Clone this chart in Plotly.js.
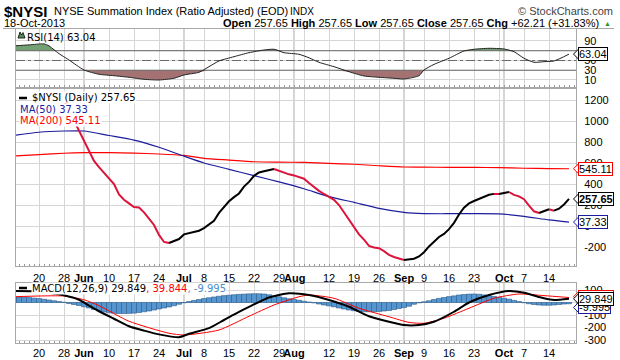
<!DOCTYPE html>
<html><head><meta charset="utf-8">
<script src="https://cdn.plot.ly/plotly-3.0.1.min.js"></script>
<style>html,body{margin:0;padding:0;background:#fff}#chart{width:620px;height:360px}</style>
</head><body><div id="chart"></div>
<script>
// ---------- trading days ----------
const mayDays = ['05-13','05-14','05-15','05-16','05-17','05-20','05-21','05-22','05-23','05-24','05-28','05-29','05-30','05-31'];
const junDays = ['06-03','06-04','06-05','06-06','06-07','06-10','06-11','06-12','06-13','06-14','06-17','06-18','06-19','06-20','06-21','06-24','06-25','06-26','06-27','06-28'];
const julDays = ['07-01','07-02','07-03','07-05','07-08','07-09','07-10','07-11','07-12','07-15','07-16','07-17','07-18','07-19','07-22','07-23','07-24','07-25','07-26','07-29','07-30','07-31'];
const augDays = ['08-01','08-02','08-05','08-06','08-07','08-08','08-09','08-12','08-13','08-14','08-15','08-16','08-19','08-20','08-21','08-22','08-23','08-26','08-27','08-28','08-29','08-30'];
const sepDays = ['09-03','09-04','09-05','09-06','09-09','09-10','09-11','09-12','09-13','09-16','09-17','09-18','09-19','09-20','09-23','09-24','09-25','09-26','09-27','09-30'];
const octDays = ['10-01','10-02','10-03','10-04','10-07','10-08','10-09','10-10','10-11','10-14','10-15','10-16','10-17','10-18'];
const tradingDays = [].concat(mayDays, junDays, julDays, augDays, sepDays, octDays).map(d => '2013-' + d);

// ---------- $NYSI daily (from 2013-05-28) ----------
const nysiStart = '2013-05-28';
const nysi = [
  1200, 1090, 1005, 905,
  810, 715, 620, 560, 510, 460, 400, 300, 250, 215, 181, 176, 130, 70, 10, -85, -152, -162, -145, -124,
  -80, -68, -58, -45, -20, 15, 50, 125, 185, 235, 275, 310, 375, 420, 478, 510, 522, 533, 543, 525, 505, 492,
  482, 468, 450, 410, 370, 335, 305, 280, 250, 200, 130, 50, -20, -80, -130, -190, -205, -212, -240, -275, -295, -312,
  -324, -318, -312, -290, -250, -195, -150, -105, -75, -30, 30, 110, 175, 215, 238, 260, 278, 298, 306, 304,
  312, 324, 296, 282, 255, 195, 140, 124, 142, 160, 146, 165, 205, 257.65
];

// ---------- moving averages (sampled) ----------
const ma50Dates = ['2013-05-13','2013-05-20','2013-05-28','2013-06-03','2013-06-10','2013-06-17','2013-06-24','2013-07-01','2013-07-08','2013-07-15','2013-07-22','2013-07-29','2013-08-05','2013-08-12','2013-08-19','2013-08-26','2013-09-03','2013-09-09','2013-09-16','2013-09-23','2013-09-30','2013-10-07','2013-10-14','2013-10-18'];
const ma50 = [862, 893, 905, 905, 862, 818, 750, 665, 600, 540, 480, 420, 355, 280, 225, 168, 130, 118, 117, 118, 116, 92, 58, 37.33];
const ma200Dates = ['2013-05-13','2013-05-20','2013-05-28','2013-06-03','2013-06-10','2013-06-17','2013-06-24','2013-07-01','2013-07-08','2013-07-15','2013-07-22','2013-07-29','2013-08-05','2013-08-12','2013-08-19','2013-08-26','2013-09-03','2013-09-09','2013-09-16','2013-09-23','2013-09-30','2013-10-07','2013-10-14','2013-10-18'];
const ma200 = [667, 680, 693, 698, 698, 694, 686, 672, 645, 628, 612, 608, 606, 597, 588, 574, 562, 560, 559, 558, 556, 550, 547, 545.11];

// ---------- RSI(14) (sampled) ----------
const rsiDates = ['2013-05-13','2013-05-16','2013-05-21','2013-05-22','2013-05-23','2013-05-24','2013-05-29','2013-06-03','2013-06-06','2013-06-11','2013-06-14','2013-06-19','2013-06-24','2013-06-27','2013-07-01','2013-07-05','2013-07-09','2013-07-11','2013-07-16','2013-07-19','2013-07-24','2013-07-26','2013-07-30','2013-08-02','2013-08-06','2013-08-08','2013-08-13','2013-08-16','2013-08-21','2013-08-26','2013-08-29','2013-09-03','2013-09-06','2013-09-09','2013-09-11','2013-09-16','2013-09-19','2013-09-23','2013-09-26','2013-10-01','2013-10-03','2013-10-07','2013-10-09','2013-10-11','2013-10-15','2013-10-18'];
const rsi = [80, 82, 84, 80, 72, 64, 51, 30.5, 21.7, 18.8, 15.5, 11.4, 10, 13.5, 20.3, 25.8, 37.3, 49, 57.8, 66, 71.5, 73, 66, 62.7, 55.5, 46.3, 37.3, 27, 18.2, 15.5, 13.5, 12, 18.8, 30.5, 42, 54.5, 69.5, 73, 75, 73.6, 68, 54.5, 46.3, 47.6, 49, 63.04];

// ---------- MACD(12,26,9) ----------
const macdDates = ['2013-05-13','2013-05-17','2013-05-22','2013-05-28','2013-05-31','2013-06-04','2013-06-06','2013-06-11','2013-06-14','2013-06-19','2013-06-24','2013-06-28','2013-07-02','2013-07-09','2013-07-12','2013-07-17','2013-07-19','2013-07-25','2013-07-31','2013-08-06','2013-08-12','2013-08-16','2013-08-22','2013-08-28','2013-09-03','2013-09-06','2013-09-11','2013-09-17','2013-09-20','2013-09-26','2013-10-02','2013-10-07','2013-10-11','2013-10-15','2013-10-18'];
const macd = [92, 90, 78, 58, 22, -25, -70, -130, -190, -225, -255, -278, -250, -205, -140, -75, -35, 40, 74, 60, 20, -34, -110, -154, -180, -180, -154, -74, 0, 60, 92, 78, 34, 20, 29.849];
const signalDates = ['2013-05-13','2013-05-20','2013-05-28','2013-06-03','2013-06-06','2013-06-14','2013-06-26','2013-07-01','2013-07-11','2013-07-19','2013-07-26','2013-08-02','2013-08-06','2013-08-13','2013-08-20','2013-08-28','2013-09-04','2013-09-09','2013-09-13','2013-09-20','2013-09-27','2013-10-04','2013-10-11','2013-10-18'];
const signal = [46, 52, 52, 22, -25, -150, -246, -260, -220, -110, -20, 46, 60, 34, -46, -114, -159, -166, -126, -46, 34, 68, 55, 39.844];
const hist = [
  44, 43, 42, 40, 35, 32, 26, 20, 14, 8, 2, -8, -16, -24,
  -34, -44, -56, -68, -76, -82, -86, -88, -88, -87, -85, -80, -74, -68, -60, -52, -44, -36, -26, -14,
  -2, 8, 16, 24, 32, 38, 44, 50, 55, 58, 62, 65, 67, 69, 70, 70, 68, 62, 54, 46, 38, 30,
  24, 18, 10, 4, -3, -12, -20, -27, -35, -44, -52, -60, -66, -72, -74, -74, -74, -72, -68, -64, -56, -48,
  -40, -30, -14, -3, 6, 14, 24, 33, 40, 47, 53, 60, 64, 67, 68, 66, 61, 55, 48, 42,
  34, 27, 17, 8, -2, -10, -16, -20, -22, -22, -20, -16, -12, -9.995
];

// ---------- axis labels ----------
const xTickVals = ['2013-05-20','2013-05-28','2013-06-03','2013-06-10','2013-06-17','2013-06-24','2013-07-01','2013-07-08','2013-07-15','2013-07-22','2013-07-29','2013-08-01','2013-08-05','2013-08-12','2013-08-19','2013-08-26','2013-09-03','2013-09-09','2013-09-16','2013-09-23','2013-09-30','2013-10-01','2013-10-07','2013-10-14'];
const xTickText = ['20','28','<b>Jun</b>','10','17','24','<b>Jul</b>','8','15','22','29','<b>Aug</b>','','12','19','26','<b>Sep</b>','9','16','23','','<b>Oct</b>','7','14'];
const monthStarts = ['2013-06-03','2013-07-01','2013-08-01','2013-09-03','2013-10-01'];
const holidays = ['2013-05-27','2013-07-04','2013-09-02'];
const mainTickVals = [-200, 0, 200, 400, 600, 800, 1000, 1200];
const mainTickText = ['-200', '0', '200', '400', '600', '800', '1000', '1200'];
const macdTickVals = [-300, -200, -100, 0, 100];
const macdTickText = ['-300', '-200', '-100', '', '100'];
const rsiTickVals = [10, 30, 50, 70, 90];
const rsiTickText = ['10', '30', '50', '', '90'];

// ---------- layout helpers (pixel -> paper) ----------
const L = 16, R = 576, T = 29, B = 343;
const PX = p => (p - L) / (R - L);
const PY = p => (B - p) / (B - T);
const FONT = 'Liberation Sans, Arial, sans-serif';
const LFONT = 'DejaVu Sans, Verdana, sans-serif';
const panels = {
  y: {top: 89, bottom: 266, range: [-381, 1305]},
  y2: {top: 283, bottom: 343, range: [-324, 156]},
  y3: {top: 29, bottom: 87, range: [-4.4, 114.6]}
};
const valToPx = (ax, v) => { const p = panels[ax]; return p.bottom - (v - p.range[0]) / (p.range[1] - p.range[0]) * (p.bottom - p.top); };
const xRange = ['2013-05-13 09:36', '2013-10-21 09:36'];

const traces = [];
// RSI fills
traces.push({x: rsiDates, y: rsi.map(() => 70), xaxis: 'x3', yaxis: 'y3', mode: 'lines', line: {width: 0}, hoverinfo: 'skip'});
traces.push({x: rsiDates, y: rsi.map(v => Math.max(v, 70)), xaxis: 'x3', yaxis: 'y3', mode: 'lines', line: {width: 0}, fill: 'tonexty', fillcolor: '#72a072', hoverinfo: 'skip'});
traces.push({x: rsiDates, y: rsi.map(() => 30), xaxis: 'x3', yaxis: 'y3', mode: 'lines', line: {width: 0}, hoverinfo: 'skip'});
traces.push({x: rsiDates, y: rsi.map(v => Math.min(v, 30)), xaxis: 'x3', yaxis: 'y3', mode: 'lines', line: {width: 0}, fill: 'tonexty', fillcolor: '#a47272', hoverinfo: 'skip'});
// RSI reference levels
traces.push({x: xRange, y: [70, 70], xaxis: 'x3', yaxis: 'y3', mode: 'lines', line: {color: '#6a6a6a', width: 1}, hoverinfo: 'skip'});
traces.push({x: xRange, y: [30, 30], xaxis: 'x3', yaxis: 'y3', mode: 'lines', line: {color: '#6a6a6a', width: 1}, hoverinfo: 'skip'});
traces.push({x: xRange, y: [50, 50], xaxis: 'x3', yaxis: 'y3', mode: 'lines', line: {color: '#6a6a6a', width: 1, dash: 'dashdot'}, hoverinfo: 'skip'});
traces.push({x: rsiDates, y: rsi, xaxis: 'x3', yaxis: 'y3', mode: 'lines', line: {color: '#222', width: 1, shape: 'spline', smoothing: 0.6}});

// Main panel
traces.push({x: ma200Dates, y: ma200, xaxis: 'x', yaxis: 'y', mode: 'lines', line: {color: '#ff0000', width: 1.2, shape: 'spline', smoothing: 0.6}});
traces.push({x: ma50Dates, y: ma50, xaxis: 'x', yaxis: 'y', mode: 'lines', line: {color: '#1c1c9c', width: 1.2, shape: 'spline', smoothing: 0.6}});
const nysiDates = tradingDays.slice(tradingDays.indexOf(nysiStart));
let cur = null; const segs = [];
for (let i = 1; i < nysi.length; i++) {
  const up = nysi[i] >= nysi[i - 1];
  if (!cur || cur.up !== up) { cur = {up, x: [nysiDates[i - 1]], y: [nysi[i - 1]]}; segs.push(cur); }
  cur.x.push(nysiDates[i]); cur.y.push(nysi[i]);
}
segs.forEach(s => traces.push({x: s.x, y: s.y, xaxis: 'x', yaxis: 'y', mode: 'lines', line: {color: s.up ? '#000000' : '#dc143c', width: 2}}));

// MACD panel
traces.push({x: tradingDays, y: hist, type: 'bar', xaxis: 'x2', yaxis: 'y2', marker: {color: '#5596d0', line: {color: '#2a5a8a', width: 0.6}}});
traces.push({x: signalDates, y: signal, xaxis: 'x2', yaxis: 'y2', mode: 'lines', line: {color: '#ff0000', width: 1, shape: 'spline', smoothing: 0.6}});
traces.push({x: macdDates, y: macd, xaxis: 'x2', yaxis: 'y2', mode: 'lines', line: {color: '#000', width: 2, shape: 'spline', smoothing: 0.6}});

const xBase = {
  type: 'date', range: xRange.slice(),
  rangebreaks: [{bounds: ['sat', 'mon']}, {values: holidays}],
  tickmode: 'array', tickvals: xTickVals, ticktext: xTickText, tickangle: 0,
  tickfont: {family: FONT, size: 11, color: '#000'},
  showgrid: true, gridcolor: '#d6d6d6', gridwidth: 1,
  showline: true, mirror: true, linecolor: '#a8a8a8', linewidth: 1,
  ticks: '', zeroline: false, fixedrange: true,
  minor: {ticks: 'inside', ticklen: 2, dtick: 86400000, tickcolor: '#999', showgrid: false}
};
const yBase = {
  side: 'right', showgrid: true, gridcolor: '#d6d6d6', zeroline: false,
  showline: true, mirror: true, linecolor: '#a8a8a8', ticks: '', ticklabelstandoff: 5,
  tickfont: {family: FONT, size: 11, color: '#000'}, fixedrange: true, tickmode: 'array'
};

const shapes = [];
[['x', 'y'], ['x2', 'y2'], ['x3', 'y3']].forEach(([xa, ya]) => {
  monthStarts.forEach(d => shapes.push({type: 'line', xref: xa, yref: ya + ' domain', x0: d, x1: d, y0: 0, y1: 1, line: {color: '#a8a8a8', width: 1}, layer: 'below'}));
});
shapes.push({type: 'line', xref: 'paper', yref: 'paper', x0: PX(3), x1: PX(614), y0: PY(28.5), y1: PY(28.5), line: {color: '#a8a8a8', width: 1}});
shapes.push({type: 'line', xref: 'paper', yref: 'paper', x0: PX(19), x1: PX(27), y0: PY(98), y1: PY(98), line: {color: '#000', width: 2.5}});
shapes.push({type: 'line', xref: 'paper', yref: 'paper', x0: PX(19), x1: PX(27), y0: PY(288), y1: PY(288), line: {color: '#000', width: 2.5}});
shapes.push({type: 'path', xref: 'paper', yref: 'paper',
  path: `M ${PX(18)},${PY(38)} L ${PX(20)},${PY(32)} L ${PX(21.5)},${PY(35)} L ${PX(23)},${PY(32.5)} L ${PX(25)},${PY(38)} Z`,
  fillcolor: '#5a8a5a', line: {color: '#000', width: 0.8}});

const ann = (text, x, y, opts = {}) => Object.assign({text, x: PX(x), y: PY(y), xref: 'paper', yref: 'paper', showarrow: false, xanchor: 'left', yanchor: 'middle', font: {family: FONT, size: 11, color: '#000'}, borderpad: 0}, opts);
const boxes = [];
const box = (text, ax, v, color, bold) => {
  const py = valToPx(ax, v);
  shapes.push({type: 'path', xref: 'paper', yref: 'paper',
    path: `M ${PX(578.5)},${PY(py - 5)} L ${PX(573.5)},${PY(py)} L ${PX(578.5)},${PY(py + 5)} Z`,
    fillcolor: '#fff', line: {color, width: 1}});
  boxes.push({text: bold ? '<b>' + text + '</b>' : text, xref: 'paper', x: PX(578), yref: 'paper', y: PY(py), showarrow: false, xanchor: 'left', yanchor: 'middle', font: {family: FONT, size: 11, color: '#000'}, bgcolor: '#fff', bordercolor: color, borderwidth: 1, borderpad: 0});
};
box('63.04', 'y3', 63.04, '#000', false);
box('545.11', 'y', 545.11, '#ff0000', false);
box('37.33', 'y', 37.33, '#1c1c9c', false);
box('257.65', 'y', 257.65, '#000', true);
box('39.844', 'y2', 39.844 + 6, '#ff0000', false);
box('-9.995', 'y2', -9.995 - 30, '#1c1c9c', false);
box('29.849', 'y2', 29.849, '#000', false);

// date labels between the main panel and the MACD panel
const midLabels = xTickVals.map((d, i) => ({text: xTickText[i], x: d, xref: 'x', y: PY(277.5), yref: 'paper', showarrow: false, xanchor: 'center', yanchor: 'middle', font: {family: FONT, size: 11, color: '#000'}})).filter(a => a.text !== '');

const annotations = [
  ann('<b>$NYSI</b>', 3, 11, {font: {family: FONT, size: 15, color: '#000'}}),
  ann('NYSE Summation Index (Ratio Adjusted) (EOD)', 53, 11),
  ann('INDX', 289, 11.5, {font: {family: FONT, size: 10, color: '#000'}}),
  ann('© StockCharts.com', 614, 11, {xanchor: 'right', font: {family: FONT, size: 11, color: '#444'}}),
  ann('18-Oct-2013', 3, 23),
  ann('<b>Open</b> 257.65 <b>High</b> 257.65 <b>Low</b> 257.65 <b>Close</b> 257.65 <b>Chg</b> +62.21 (+31.83%)', 600, 23, {xanchor: 'right'}),
  ann('▲', 603, 23, {font: {family: FONT, size: 7, color: '#2a9a2a'}}),
  ann('RSI(14) 63.04', 26, 37, {font: {family: LFONT, size: 10, color: '#000'}}),
  ann('$NYSI (Daily) 257.65', 31, 98, {font: {family: LFONT, size: 10, color: '#000'}, bgcolor: '#fff'}),
  ann('MA(50) 37.33', 19, 109, {font: {family: LFONT, size: 10, color: '#1c1c9c'}, bgcolor: '#fff'}),
  ann('MA(200) 545.11', 19, 120, {font: {family: LFONT, size: 10, color: '#ff0000'}, bgcolor: '#fff'}),
  ann('MACD(12,26,9) 29.849<span style="color:#ff0000">, 39.844</span><span style="color:#4a90c8">, -9.995</span>', 31, 288, {font: {family: LFONT, size: 10, color: '#000'}, bgcolor: '#fff'})
].concat(midLabels, boxes);

const layout = {
  width: 620, height: 360, margin: {l: L, r: 620 - R, t: T, b: 360 - B},
  paper_bgcolor: '#fff', plot_bgcolor: '#fff', showlegend: false, bargap: 0,
  font: {family: FONT, size: 11, color: '#000'},
  xaxis: Object.assign({}, xBase, {anchor: 'y', showticklabels: false}),
  xaxis2: Object.assign({}, xBase, {anchor: 'y2', matches: 'x'}),
  xaxis3: Object.assign({}, xBase, {anchor: 'y3', matches: 'x', showticklabels: false}),
  yaxis: Object.assign({}, yBase, {domain: [PY(panels.y.bottom), PY(panels.y.top)], range: panels.y.range, tickvals: mainTickVals, ticktext: mainTickText}),
  yaxis2: Object.assign({}, yBase, {domain: [PY(panels.y2.bottom), PY(panels.y2.top)], range: panels.y2.range, tickvals: macdTickVals, ticktext: macdTickText}),
  yaxis3: Object.assign({}, yBase, {domain: [PY(panels.y3.bottom), PY(panels.y3.top)], range: panels.y3.range, tickvals: rsiTickVals, ticktext: rsiTickText}),
  shapes, annotations
};

Plotly.newPlot('chart', traces, layout, {displayModeBar: false, staticPlot: true});
</script>
</body></html>
